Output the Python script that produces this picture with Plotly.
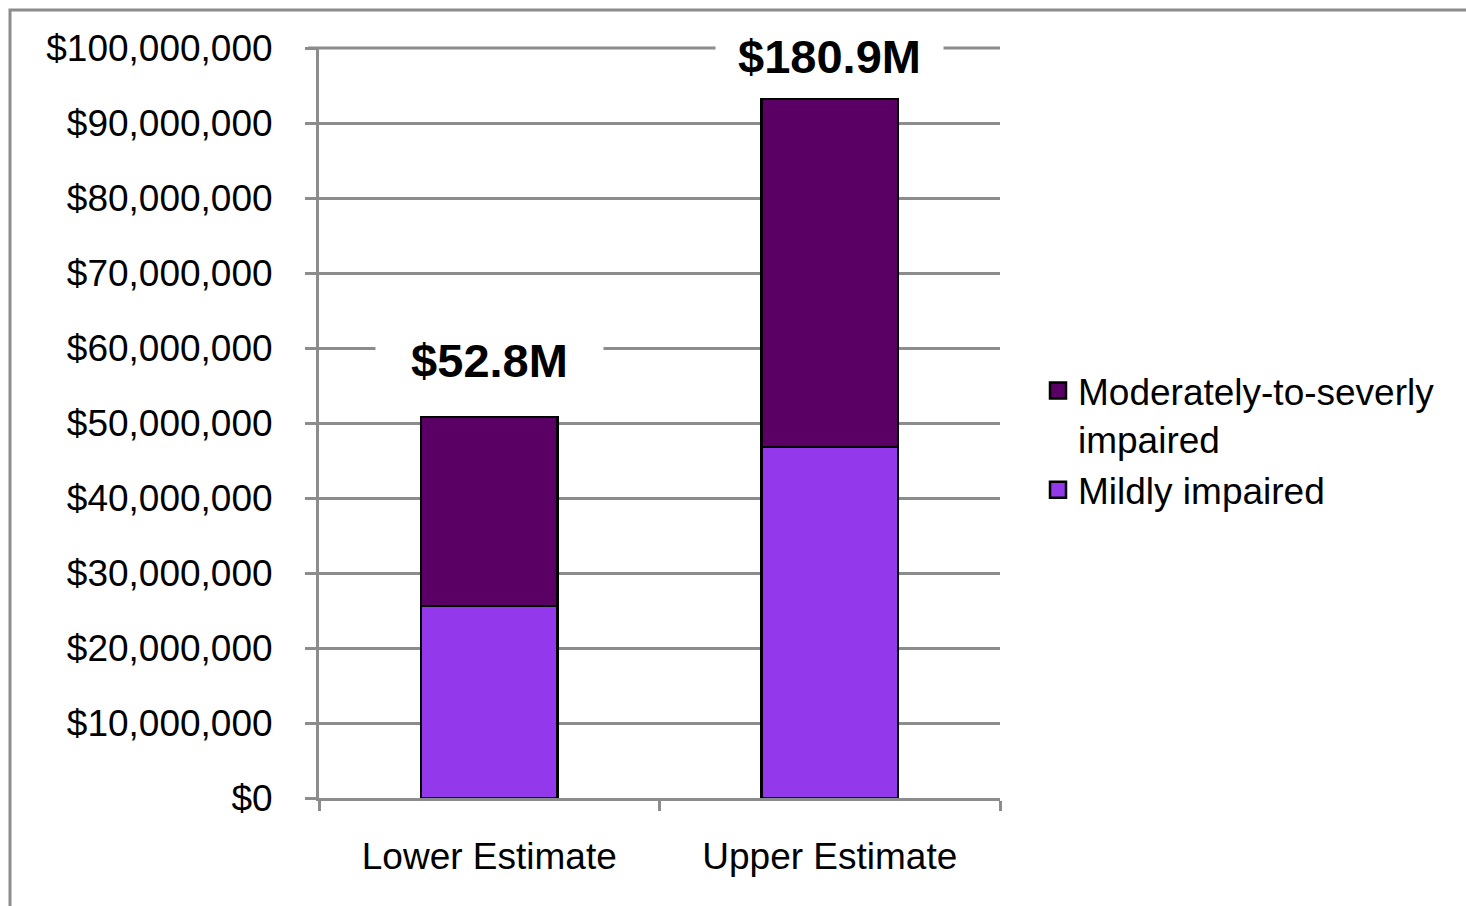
import plotly.graph_objects as go

# Estimated annual cost by impairment level
categories = ["Lower Estimate", "Upper Estimate"]
mild = [25_600_000, 46_800_000]
moderate_severe = [25_200_000, 46_400_000]
total_labels = ["$52.8M", "$180.9M"]
label_shift = [57, 43]
y_max = 100_000_000

FONT = "Liberation Sans, Arial, sans-serif"
GRID = "#8c8c8c"
MILD_COLOR = "#9338ea"
MOD_COLOR = "#5a0064"

W, H = 1466, 906
L, R, T, B = 319, 466, 48, 108
pw, ph = W - L - R, H - T - B


def px_x(p):
    return (p - L) / pw


def px_y(p):
    return (H - B - p) / ph


fig = go.Figure()
fig.add_trace(go.Bar(
    name="Mildly impaired", x=categories, y=mild, legendgroup="mild",
    marker=dict(color=MILD_COLOR, line=dict(color="#000000", width=2.5)),
    width=0.4, showlegend=False,
))
fig.add_trace(go.Bar(
    name="Moderately-to-severly impaired", x=categories, y=moderate_severe,
    legendgroup="mod",
    marker=dict(color=MOD_COLOR, line=dict(color="#000000", width=2.5)),
    width=0.4, showlegend=False,
))

# legend keys (square swatches)
for name, color, grp in [
    ("Moderately-to-severly<br>impaired", MOD_COLOR, "mod"),
    ("Mildly impaired", MILD_COLOR, "mild"),
]:
    fig.add_trace(go.Scatter(
        x=[None], y=[None], mode="markers", name=name, legendgroup=grp,
        marker=dict(symbol="square", size=16, color=color,
                    line=dict(color="#000000", width=2.5)),
    ))

totals = [a + b for a, b in zip(mild, moderate_severe)]
for cat, tot, txt, sh in zip(categories, totals, total_labels, label_shift):
    fig.add_annotation(
        x=cat, y=tot, text=f"<b>{txt}</b>", showarrow=False,
        yanchor="middle", yshift=sh,
        font=dict(family=FONT, size=47, color="#000000"),
        bgcolor="#ffffff", width=215, borderpad=6,
    )

# gridline at the top of the value range
fig.add_shape(
    type="line", xref="paper", yref="paper", layer="below",
    x0=px_x(308), x1=1, y0=1, y1=1,
    line=dict(color=GRID, width=3),
)

# outer frame (left and top edges visible)
fig.add_shape(
    type="rect", xref="paper", yref="paper", layer="below",
    x0=px_x(10), x1=px_x(W + 10), y0=px_y(H + 10), y1=px_y(10),
    line=dict(color=GRID, width=3), fillcolor="rgba(0,0,0,0)",
)

fig.update_layout(
    width=W, height=H,
    margin=dict(l=L, r=R, t=T, b=B, autoexpand=False),
    barmode="stack",
    plot_bgcolor="#ffffff", paper_bgcolor="#ffffff",
    font=dict(family=FONT, size=37, color="#000000"),
    showlegend=True,
    legend=dict(
        x=px_x(1038), y=px_y(360), xanchor="left", yanchor="top",
        traceorder="normal", valign="top",
        font=dict(family=FONT, size=37, color="#000000"),
        bgcolor="rgba(0,0,0,0)",
    ),
)
fig.update_yaxes(
    range=[0, y_max], dtick=10_000_000, tickprefix="$", tickformat=",d",
    showgrid=True, gridcolor=GRID, gridwidth=3,
    showline=True, linecolor=GRID, linewidth=3,
    ticks="outside", ticklen=11, tickwidth=3, tickcolor=GRID,
    ticklabelstandoff=25, zeroline=False,
    tickfont=dict(family=FONT, size=37, color="#000000"),
)
fig.update_xaxes(
    showgrid=False, showline=True, linecolor=GRID, linewidth=3,
    ticks="outside", ticklen=10, tickwidth=3, tickcolor=GRID,
    tickson="boundaries", ticklabelstandoff=24,
    tickfont=dict(family=FONT, size=37, color="#000000"),
)

fig.write_html("out.html")
